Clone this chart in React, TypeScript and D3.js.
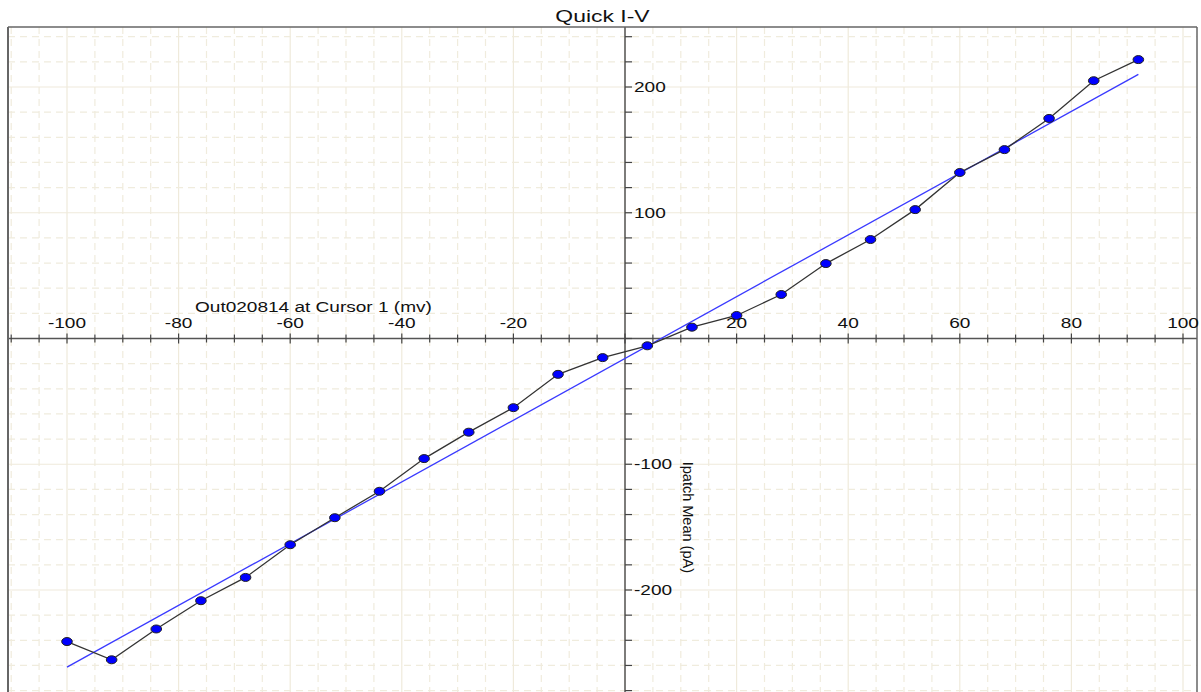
import React from 'react';
import * as d3 from 'd3';

// voltage steps (mV) and mean patch current (pA)
const voltages = [-100, -92, -84, -76, -68, -60, -52, -44, -36, -28, -20, -12, -4, 4, 12, 20, 28, 36, 44, 52, 60, 68, 76, 84, 92];
const currents = [-241, -255.5, -231, -208.5, -190, -164, -142.5, -121.5, -95.5, -74.5, -55, -28.5, -15.2, -5.8, 9, 18.3, 35, 59.6, 78.7, 102.5, 132, 150.2, 175, 205, 221.8];
const xTickLabels = [-100, -80, -60, -40, -20, 20, 40, 60, 80, 100];
const yTickLabels = [-200, -100, 100, 200];

const W = 1201;
const H = 692;
const frame = { left: 8, top: 27, right: 1197, bottom: 692 };
const font = '"Liberation Sans", Arial, sans-serif';
const stretch = 1.27;

export default function App() {
  const x = d3.scaleLinear().domain([-100, 100]).range([67, 1183]);
  const y = d3.scaleLinear().domain([-200, 200]).range([590, 87]);

  const points = voltages.map((v, i) => ({ v, c: currents[i] }));

  // least squares fit through the points
  const mx = d3.mean(voltages) as number;
  const my = d3.mean(currents) as number;
  const slope = d3.sum(points, p => (p.v - mx) * (p.c - my)) / d3.sum(points, p => (p.v - mx) ** 2);
  const icpt = my - slope * mx;
  const fitEnds = [voltages[0], voltages[voltages.length - 1]].map(v => ({ v, c: icpt + slope * v }));

  const line = d3.line<{ v: number; c: number }>().x(d => x(d.v)).y(d => y(d.c));

  const xGrid = d3.range(-110, 105, 5);
  const yGrid = d3.range(-280, 260, 20);
  const x0 = x(0);
  const y0 = y(0);

  return (
    <svg width={W} height={H} style={{ position: 'absolute', left: 0, top: 0, background: '#fff' }}>
      <defs>
        <clipPath id="plot">
          <rect x={frame.left} y={frame.top} width={frame.right - frame.left} height={frame.bottom - frame.top} />
        </clipPath>
      </defs>

      <g clipPath="url(#plot)">
        {/* grid */}
        {xGrid.map(t => (
          <line key={'gx' + t} x1={x(t)} x2={x(t)} y1={frame.top} y2={frame.bottom}
            stroke={t % 20 === 0 ? '#efeadb' : '#f0ecdd'} strokeWidth={1.2}
            strokeDasharray={t % 20 === 0 ? undefined : '7,5'} />
        ))}
        {yGrid.map(t => (
          <line key={'gy' + t} x1={frame.left} x2={frame.right} y1={y(t)} y2={y(t)}
            stroke={t % 100 === 0 ? '#efeadb' : '#f0ecdd'} strokeWidth={1.2}
            strokeDasharray={t % 100 === 0 ? undefined : '7,5'} />
        ))}

        {/* axes through origin */}
        <line x1={frame.left} x2={frame.right} y1={y0} y2={y0} stroke="#555" strokeWidth={1.5} />
        <line x1={x0} x2={x0} y1={frame.top} y2={frame.bottom} stroke="#555" strokeWidth={1.5} />
        {xGrid.map(t => (
          <line key={'tx' + t} x1={x(t)} x2={x(t)} y1={y0 - (t % 20 === 0 ? 5 : 4)} y2={y0 + (t % 20 === 0 ? 5 : 4)}
            stroke="#444" strokeWidth={1.2} />
        ))}
        {yGrid.map(t => (
          <line key={'ty' + t} x1={x0} x2={x0 + 7} y1={y(t)} y2={y(t)} stroke="#444" strokeWidth={1.2} />
        ))}

        {/* fit line */}
        <path d={line(fitEnds) || ''} fill="none" stroke="#3a3aff" strokeWidth={1.3} />

        {/* data */}
        <path d={line(points) || ''} fill="none" stroke="#333" strokeWidth={1.3} />
        {points.map(p => (
          <ellipse key={'p' + p.v} cx={x(p.v)} cy={y(p.c)} rx={5.3} ry={4} fill="#0000ff" stroke="#222" strokeWidth={1} />
        ))}
      </g>

      {/* frame */}
      <line x1={frame.left} x2={frame.right} y1={frame.top} y2={frame.top} stroke="#666" strokeWidth={1.5} />
      <line x1={frame.left} x2={frame.left} y1={frame.top} y2={frame.bottom} stroke="#666" strokeWidth={2} />
      <line x1={frame.right} x2={frame.right} y1={frame.top} y2={frame.bottom} stroke="#666" strokeWidth={1.5} />

      {/* tick labels */}
      {xTickLabels.map(t => (
        <text key={'lx' + t} transform={`translate(${x(t)},${y0 - 11}) scale(${stretch},1)`}
          textAnchor="middle" fontFamily={font} fontSize={15} fill="#111">{t}</text>
      ))}
      {yTickLabels.map(t => (
        <text key={'ly' + t} transform={`translate(${x0 + 9},${y(t)}) scale(${stretch},1)`}
          dominantBaseline="central" fontFamily={font} fontSize={15} fill="#111">{t}</text>
      ))}

      {/* titles */}
      <text transform={`translate(${(frame.left + frame.right) / 2},22) scale(1.35,1)`} textAnchor="middle"
        fontFamily={font} fontSize={17} fill="#111">Quick I-V</text>
      <text transform={`translate(195,${y0 - 27}) scale(${stretch},1)`} fontFamily={font} fontSize={15} fill="#111">
        Out020814 at Cursor 1 (mv)
      </text>
      <text transform={`translate(683,${y(-98)}) rotate(90)`} fontFamily={font} fontSize={14.5} fill="#111">
        Ipatch Mean (pA)
      </text>
    </svg>
  );
}
